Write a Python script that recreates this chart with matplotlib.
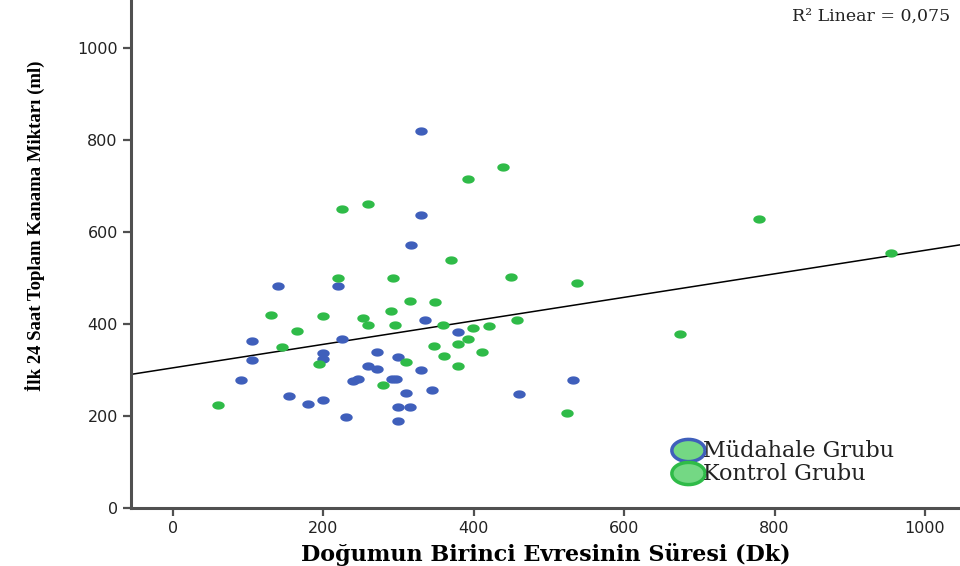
import numpy as np
import matplotlib
matplotlib.use("Agg")
import matplotlib.pyplot as plt
from matplotlib.lines import Line2D

# Müdahale Grubu (intervention group)
mudahale_x = [330, 330, 317, 140, 220, 335, 379, 225, 105, 200, 272, 105, 200, 300,
              260, 272, 330, 91, 240, 246, 292, 297, 532, 345, 155, 310, 460, 180,
              200, 300, 315, 230, 300]
mudahale_y = [820, 638, 572, 483, 483, 409, 383, 368, 364, 338, 340, 322, 325, 329,
              309, 303, 301, 279, 277, 281, 281, 281, 279, 257, 244, 251, 248, 227,
              235, 220, 220, 198, 190]

# Kontrol Grubu (control group)
kontrol_x = [60, 131, 145, 165, 194, 200, 220, 225, 253, 260, 260, 280, 290, 293,
             295, 310, 315, 349, 347, 359, 361, 370, 379, 379, 393, 393, 399, 411,
             420, 439, 450, 458, 524, 537, 674, 779, 955]
kontrol_y = [225, 420, 351, 385, 314, 418, 501, 651, 414, 398, 662, 268, 429, 501,
             398, 318, 451, 448, 353, 398, 331, 540, 357, 309, 368, 716, 392, 340,
             396, 742, 503, 409, 207, 490, 379, 629, 555]

# fit line (total sample)
fit_intercept = 304.8
fit_slope = 0.2557
r2_text = "R\u00b2 Linear = 0,075"

x_ticks = [0, 200, 400, 600, 800, 1000]
y_ticks = [0, 200, 400, 600, 800, 1000]

blue = "#3f5fbb"
green = "#2fbb48"
light_green = "#74d884"
axis_gray = "#505050"

t = np.linspace(0, 2 * np.pi, 40)
ellipse = np.column_stack([1.5 * np.cos(t), np.sin(t)])

fig = plt.figure(figsize=(9.6, 5.66), dpi=100)
ax = fig.add_axes([131 / 960, 58 / 566, 1 - 131 / 960, 1 - 58 / 566])

ax.scatter(mudahale_x, mudahale_y, s=80, marker=ellipse, color=blue,
           linewidths=0, zorder=3)
ax.scatter(kontrol_x, kontrol_y, s=80, marker=ellipse, color=green,
           linewidths=0, zorder=3)

xlim = (-55.4, 1046.5)
line_x = np.array(xlim)
ax.plot(line_x, fit_intercept + fit_slope * line_x, color="black", lw=1.1, zorder=2)

ax.set_xlim(*xlim)
ax.set_ylim(0, 1105)

for side in ("top", "right"):
    ax.spines[side].set_visible(False)
for side in ("left", "bottom"):
    ax.spines[side].set_color(axis_gray)
    ax.spines[side].set_linewidth(2.2)

ax.set_xticks(x_ticks)
ax.set_yticks(y_ticks)
ax.tick_params(axis="both", colors=axis_gray, width=1.6, length=6,
               labelcolor="#222222", labelsize=11.5)
for lab in ax.get_xticklabels() + ax.get_yticklabels():
    lab.set_family("DejaVu Sans")

ax.set_xlabel("Doğumun Birinci Evresinin Süresi (Dk)", family="DejaVu Serif",
              fontweight="bold", fontsize=16, labelpad=5)
ax.set_ylabel("İlk 24 Saat Toplam Kanama Miktarı (ml)", family="Liberation Serif",
              fontweight="bold", fontsize=13.5)
ax.yaxis.set_label_coords(-0.104, 0.555)

ax.text(0.988, 0.985, r2_text, transform=ax.transAxes, ha="right", va="top",
        family="DejaVu Serif", fontsize=12.5, color="#222222")

handles = [
    Line2D([], [], linestyle="none", marker=ellipse, markersize=24,
           markerfacecolor=light_green, markeredgecolor=blue, markeredgewidth=2.5),
    Line2D([], [], linestyle="none", marker=ellipse, markersize=24,
           markerfacecolor=light_green, markeredgecolor=green, markeredgewidth=2.5),
]
leg = ax.legend(handles, ["Müdahale Grubu", "Kontrol Grubu"], loc="lower left",
                bbox_to_anchor=(0.645, 0.027), frameon=False, handlelength=1.2,
                handletextpad=0.1, labelspacing=0.05, borderaxespad=0,
                prop={"family": "DejaVu Serif", "size": 16})
for txt in leg.get_texts():
    txt.set_color("#222222")

fig.savefig("out.png", dpi=100)
